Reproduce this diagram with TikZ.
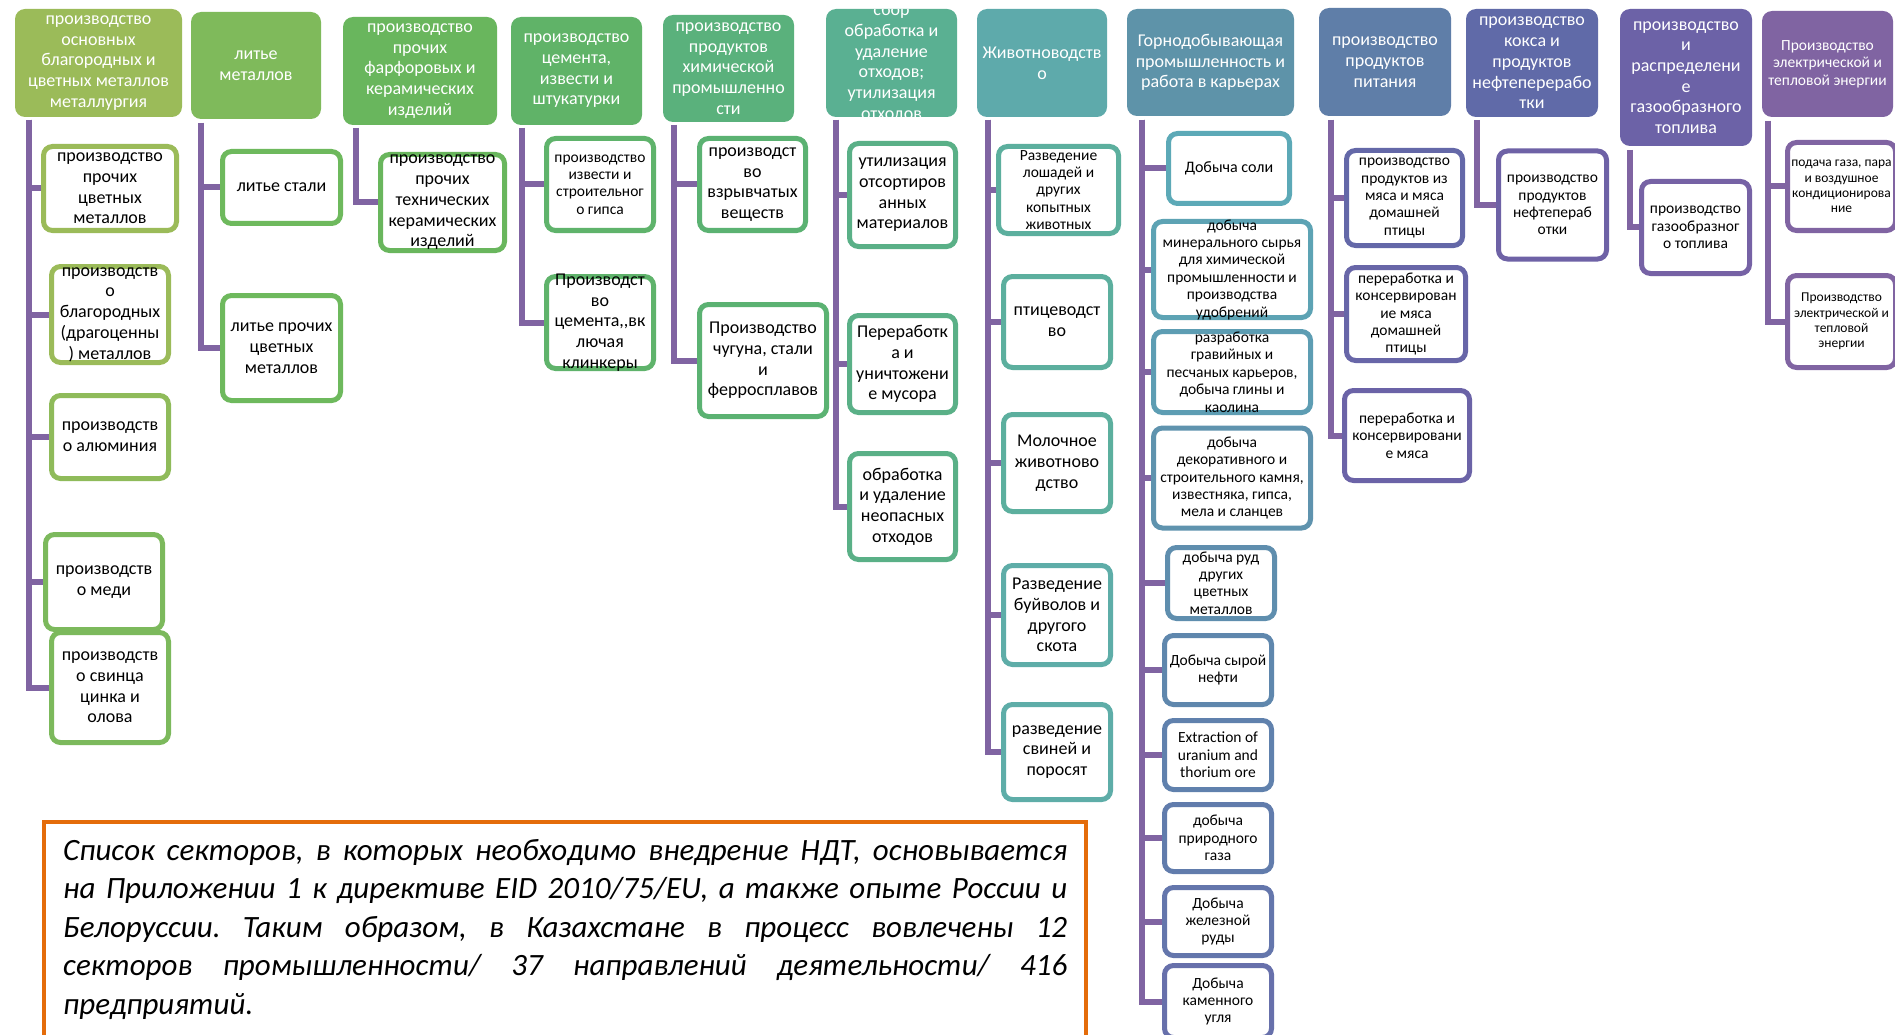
\documentclass[tikz,border=0pt]{standalone}
\usepackage{fontspec}
\setmainfont{Carlito}
\usetikzlibrary{backgrounds}
\definecolor{cpurple}{HTML}{8064A2}
\definecolor{corange}{HTML}{E46C0A}
\definecolor{hA}{HTML}{9BBB59}
\definecolor{hB}{HTML}{7FBA5B}
\definecolor{hC}{HTML}{69B65D}
\definecolor{hD}{HTML}{60B368}
\definecolor{hE}{HTML}{5AB17C}
\definecolor{hF}{HTML}{5AB092}
\definecolor{hG}{HTML}{5EAAAB}
\definecolor{hH}{HTML}{5E93A9}
\definecolor{hI}{HTML}{5F7EA8}
\definecolor{hJ}{HTML}{606AA8}
\definecolor{hK}{HTML}{6C62A7}
\definecolor{hL}{HTML}{8064A2}
\definecolor{kA}{HTML}{9BBB59}
\definecolor{kA2}{HTML}{8FBB5A}
\definecolor{kA3}{HTML}{7CB95C}
\definecolor{kB}{HTML}{6EB95D}
\definecolor{kC}{HTML}{69B65D}
\definecolor{kD}{HTML}{5FB36B}
\definecolor{kE}{HTML}{5BB272}
\definecolor{kF}{HTML}{5AB087}
\definecolor{kG}{HTML}{5CAF9E}
\definecolor{kG2}{HTML}{5EADA8}
\definecolor{kH1}{HTML}{5CA9B7}
\definecolor{kH2}{HTML}{5DA3B4}
\definecolor{kH3}{HTML}{5D9DB3}
\definecolor{kH4}{HTML}{5F93AE}
\definecolor{kH5}{HTML}{5F8EAE}
\definecolor{kH6}{HTML}{5F87AD}
\definecolor{kH7}{HTML}{6081AD}
\definecolor{kH8}{HTML}{617CAC}
\definecolor{kH9}{HTML}{6476AC}
\definecolor{kH10}{HTML}{6770AB}
\definecolor{kI}{HTML}{6468A8}
\definecolor{kI2}{HTML}{6866A8}
\definecolor{kI3}{HTML}{6B63A7}
\definecolor{kJ}{HTML}{6E62A6}
\definecolor{kK}{HTML}{7662A5}
\definecolor{kL}{HTML}{8064A2}
\newcommand\fL{\fontsize{18}{20.7}\selectfont}
\newcommand\fM{\fontsize{16}{18}\selectfont}
\newcommand\fS{\fontsize{15.5}{17.4}\selectfont}
\newcommand\fX{\fontsize{13.5}{15.2}\selectfont}
\tikzset{
  hdr/.style={fill=#1, rounded corners=10pt, inner sep=0pt, draw=none},
  htxt/.style={text=white, align=center, inner sep=0pt},
  kid/.style={draw=#1, fill=white, line width=5pt, rounded corners=9pt, inner sep=0pt},
  ktxt/.style={text=black, align=center, inner sep=0pt},
  conn/.style={draw=cpurple, line width=6pt},
}
% header: name, colour, cx, cy, w, h, font, text
\newcommand\Hd[8]{\node[hdr=#2, minimum width=#5pt, minimum height=#6pt] (#1) at (#3,#4) {};
  \node[htxt, font=#7] (#1t) at (#1.center) {#8};}
% child: name, colour, cx, cy, outer w, outer h, font, text
\newcommand\Kd[8]{\node[kid=#2, minimum width=#5pt-5pt, minimum height=#6pt-5pt] (#1) at (#3,#4) {};
  \node[ktxt, font=#7] (#1t) at (#1.center) {#8};}
\begin{document}
\begin{tikzpicture}[x=1pt,y=-1pt]
\useasboundingbox (0,0) rectangle (1895,1035);
% headers
\Hd{h1}{hA}{98.5}{63}{167}{108}{\fL}{производство\\основных\\благородных и\\цветных металлов\\металлургия}
\Hd{h2}{hB}{256}{65.5}{130}{107}{\fL}{литье\\металлов}
\Hd{h3}{hC}{420}{71}{154}{108}{\fL}{производство\\прочих\\фарфоровых и\\керамических\\изделий}
\Hd{h4}{hD}{576.5}{71}{131}{108}{\fL}{производство\\цемента,\\извести и\\штукатурки}
\Hd{h5}{hE}{728.5}{68.5}{131}{107}{\fL}{производство\\продуктов\\химической\\промышленно\\сти}
\node[hdr=hF, minimum width=131pt, minimum height=108pt,
  path picture={\node[htxt, font=\fL] (h6t) at (path picture bounding box.center)
  {сбор\\обработка и\\удаление\\отходов;\\утилизация\\отходов};}] (h6) at (891.5,63) {};
\Hd{h7}{hG}{1042}{63}{130}{108}{\fL}{Животноводств\\о}
\Hd{h8}{hH}{1210.5}{62.5}{167}{107}{\fL}{Горнодобывающая\\промышленность и\\работа в карьерах}
\Hd{h9}{hI}{1385}{62}{132}{108}{\fL}{производство\\продуктов\\питания}
\Hd{h10}{hJ}{1532}{63}{132}{108}{\fL}{производство\\кокса и\\продуктов\\нефтеперерабо\\тки}
\Hd{h11}{hK}{1686}{77.5}{132}{137}{\fL}{производство\\и\\распределени\\е\\газообразного\\топлива}
\Hd{h12}{hL}{1827.5}{64}{131}{106}{\fS}{Производство\\электрической и\\тепловой энергии}
% children column 1
\Kd{c11}{kA}{110}{188.5}{138}{89}{\fL}{производство\\прочих\\цветных\\металлов}
\Kd{c12}{kA}{110}{314.5}{122}{101}{\fL}{производств\\о\\благородных\\(драгоценны\\) металлов}
\Kd{c13}{kA2}{110}{437}{122}{88}{\fL}{производств\\о алюминия}
\Kd{c14}{kA3}{104}{582}{122}{100}{\fL}{производств\\о меди}
\Kd{c15}{kA3}{110}{687.5}{122}{115}{\fL}{производств\\о свинца\\цинка и\\олова}
% column 2
\Kd{c21}{kB}{281.5}{187.5}{123}{77}{\fL}{литье стали}
\Kd{c22}{kB}{281.5}{348}{123}{110}{\fL}{литье прочих\\цветных\\металлов}
% column 3
\Kd{c31}{kC}{442.5}{202.5}{129}{101}{\fL}{производство\\прочих\\технических\\керамических\\изделий}
% column 4
\Kd{c41}{kD}{600}{184.5}{112}{97}{\fS}{производство\\извести и\\строительног\\о гипса}
\Kd{c42}{kD}{600}{322.5}{112}{97}{\fL}{Производст\\во\\цемента,\kern0pt,вк\\лючая\\клинкеры}
% column 5
\Kd{c51}{kE}{752.5}{184.5}{111}{97}{\fL}{производст\\во\\взрывчатых\\веществ}
\Kd{c52}{kE}{763}{360.5}{132}{117}{\fL}{Производство\\чугуна, стали\\и\\ферросплавов}
% column 6
\Kd{c61}{kF}{902.5}{195}{111}{108}{\fL}{утилизация\\отсортиров\\анных\\материалов}
\Kd{c62}{kF}{902.5}{364}{111}{102}{\fL}{Переработк\\а и\\уничтожени\\е мусора}
\Kd{c63}{kF}{902.5}{506.5}{111}{111}{\fL}{обработка\\и удаление\\неопасных\\отходов}
% column 7
\Kd{c71}{kG}{1058.5}{190}{125}{92}{\fS}{Разведение\\лошадей и\\других\\копытных\\животных}
\Kd{c72}{kG}{1057}{322}{112}{96}{\fL}{птицеводст\\во}
\Kd{c73}{kG}{1057}{463}{112}{102}{\fL}{Молочное\\животново\\дство}
\Kd{c74}{kG2}{1057}{615}{112}{104}{\fL}{Разведение\\буйволов и\\другого\\скота}
\Kd{c75}{kG2}{1057}{752}{112}{100}{\fL}{разведение\\свиней и\\поросят}
% column 8
\Kd{c81}{kH1}{1229}{168.5}{126}{75}{\fM}{Добыча соли}
\Kd{c82}{kH2}{1232}{269.5}{162}{101}{\fS}{добыча\\минерального сырья\\для химической\\промышленности и\\производства\\удобрений}
\Kd{c83}{kH3}{1232}{372}{162}{86}{\fS}{разработка\\гравийных и\\песчаных карьеров,\\добыча глины и\\каолина}
\Kd{c84}{kH4}{1232}{478}{162}{105}{\fS}{добыча\\декоративного и\\строительного камня,\\известняка, гипса,\\мела и сланцев}
\Kd{c85}{kH5}{1221}{583}{112}{76}{\fS}{добыча руд\\других\\цветных\\металлов}
\Kd{c86}{kH6}{1218}{670}{112}{74}{\fS}{Добыча сырой\\нефти}
\Kd{c87}{kH7}{1218}{755}{112}{74}{\fS}{Extraction of\\uranium and\\thorium ore}
\Kd{c88}{kH8}{1218}{838}{112}{72}{\fS}{добыча\\природного\\газа}
\Kd{c89}{kH9}{1218}{921.5}{112}{73}{\fS}{Добыча\\железной\\руды}
\Kd{c810}{kH10}{1218}{1001.5}{112}{77}{\fS}{Добыча\\каменного\\угля}
% column 9
\Kd{c91}{kI}{1404.5}{198}{121}{100}{\fS}{производство\\продуктов из\\мяса и мяса\\домашней\\птицы}
\Kd{c92}{kI2}{1406}{314}{124}{98}{\fS}{переработка и\\консервирован\\ие мяса\\домашней\\птицы}
\Kd{c93}{kI3}{1407}{435.5}{130}{95}{\fS}{переработка и\\консервировани\\е мяса}
% column 10
\Kd{c101}{kJ}{1552.5}{205}{113}{113}{\fS}{производство\\продуктов\\нефтепераб\\отки}
% column 11
\Kd{c111}{kK}{1695.5}{227.5}{113}{97}{\fS}{производство\\газообразног\\о топлива}
% column 12
\Kd{c121}{kL}{1841.5}{186.5}{113}{93}{\fX}{подача газа, пара\\и воздушное\\кондиционирова\\ние}
\Kd{c122}{kL}{1841.5}{321.5}{113}{97}{\fX}{Производство\\электрической и\\тепловой\\энергии}
% connectors
\begin{scope}[on background layer]
\fill[white] (0,0) rectangle (1895,1035);
\coordinate (v1) at (29,120);
\coordinate (v2) at (201,123);
\coordinate (v3) at (356,128);
\coordinate (v4) at (522,128);
\coordinate (v5) at (674,125);
\coordinate (v6) at (836,120);
\coordinate (v7) at (988,120);
\coordinate (v8) at (1142,120);
\coordinate (v9) at (1331,120);
\coordinate (v10) at (1477,120);
\coordinate (v11) at (1630,150);
\coordinate (v12) at (1768,121);
\foreach \k in {c11,c12,c13,c14,c15} \draw[conn] (v1) |- (\k.west);
\foreach \k in {c21,c22} \draw[conn] (v2) |- (\k.west);
\draw[conn] (v3) |- (c31.west);
\foreach \k in {c41,c42} \draw[conn] (v4) |- (\k.west);
\foreach \k in {c51,c52} \draw[conn] (v5) |- (\k.west);
\foreach \k in {c61,c62,c63} \draw[conn] (v6) |- (\k.west);
\foreach \k in {c71,c72,c73,c74,c75} \draw[conn] (v7) |- (\k.west);
\foreach \k in {c81,c82,c83,c84,c85,c86,c87,c88,c89,c810} \draw[conn] (v8) |- (\k.west);
\foreach \k in {c91,c92,c93} \draw[conn] (v9) |- (\k.west);
\draw[conn] (v10) |- (c101.west);
\draw[conn] (v11) |- (c111.west);
\foreach \k in {c121,c122} \draw[conn] (v12) |- (\k.west);
\end{scope}
% note box
\node[draw=corange, line width=4.5pt, fill=white, minimum width=1042pt, minimum height=216pt, inner sep=0pt] (note) at (565,930) {};
\node[anchor=north west, text width=1004pt, align=justify, inner sep=0pt,
  font=\fontsize{31}{38.5}\selectfont\itshape] (notet) at (63,839)
  {\frenchspacing\tolerance=10000 Список секторов, в которых необходимо внедрение НДТ, основывается\linebreak
   на Приложении 1 к директиве EID 2010/75/EU, а также опыте России и\linebreak
   Белоруссии. Таким образом, в Казахстане в процесс вовлечены 12\linebreak
   секторов промышленности/ 37 направлений деятельности/ 416\linebreak
   предприятий.};
\end{tikzpicture}
\end{document}
